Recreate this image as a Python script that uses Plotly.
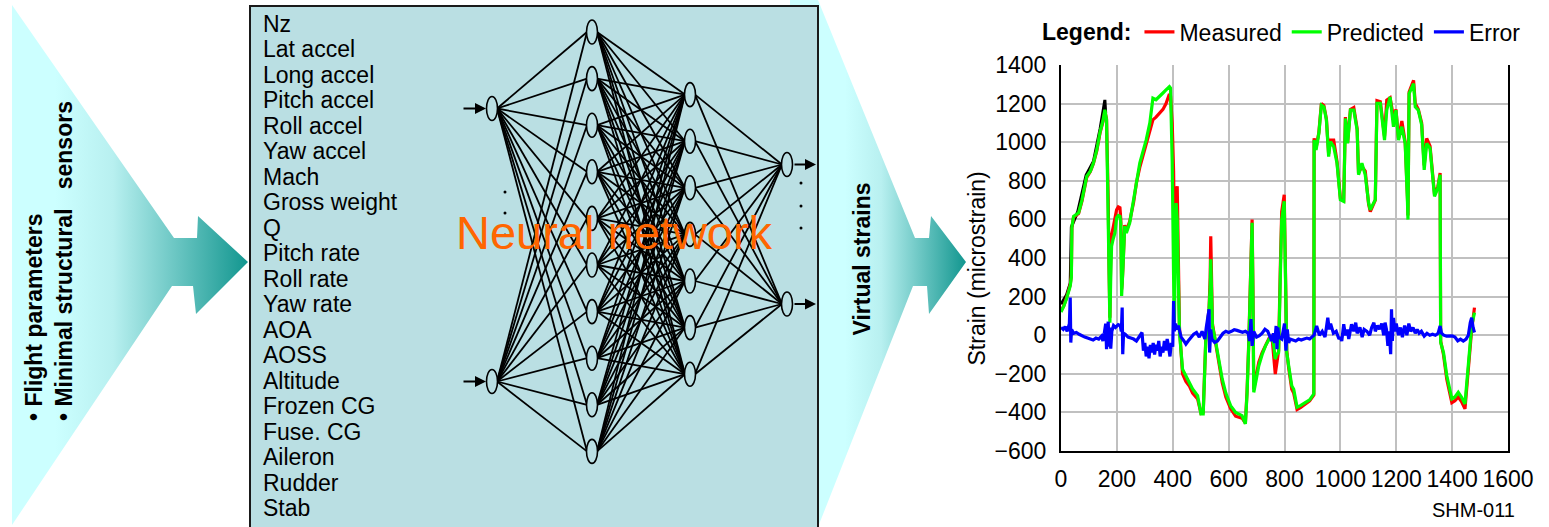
import plotly.graph_objects as go

# ---------------- data ----------------
input_labels = ["Nz", "Lat accel", "Long accel", "Pitch accel", "Roll accel", "Yaw accel",
                "Mach", "Gross weight", "Q", "Pitch rate", "Roll rate", "Yaw rate", "AOA",
                "AOSS", "Altitude", "Frozen CG", "Fuse. CG", "Aileron", "Rudder", "Stab"]

x_mp = [0, 10, 20, 33, 37, 39, 45, 63, 75, 92, 105, 116, 128, 140, 150, 157, 163, 166, 169, 172,
        175, 178, 181, 187, 193, 199, 205, 211, 214, 217, 219, 222, 228, 234, 246, 260, 270, 282,
        295, 305, 318, 329, 340, 353, 365, 376, 388, 392, 398, 403, 406, 409, 412, 416, 420, 424,
        435, 447, 460, 471, 489, 501, 509, 518, 530, 534, 536, 539, 542, 554, 565, 577, 590, 607,
        625, 648, 660, 666, 672, 680, 684, 687, 690, 700, 708, 720, 732, 745, 755, 762, 767, 772,
        779, 785, 790, 799, 802, 808, 815, 826, 833, 845, 857, 875, 890, 905, 906, 913, 923, 932,
        941, 950, 958, 964, 976, 988, 1000, 1012, 1018, 1026, 1036, 1048, 1060, 1065, 1077, 1089,
        1101, 1107, 1125, 1131, 1143, 1158, 1166, 1178, 1190, 1199, 1208, 1220, 1232, 1240, 1242,
        1246, 1262, 1268, 1279, 1291, 1300, 1309, 1321, 1337, 1349, 1357, 1359, 1369, 1381, 1399,
        1410, 1422, 1434, 1446, 1452, 1458, 1470, 1480]

predicted = [120, 150, 190, 255, 300, 560, 616, 634, 700, 823, 850, 892, 960, 1055, 1110, 1168, 1116,
             900, 685, 300, 65, 300, 461, 500, 530, 608, 620, 616, 582, 203, 250, 358, 565, 530, 582,
             700, 800, 892, 960, 1012, 1100, 1228, 1220, 1236, 1255, 1271, 1288, 1280, 900, 300, 65,
             400, 685, 600, 200, 14, -176, -210, -240, -279, -313, -408, -408, -38, 134, 250, 393,
             200, 48, -38, -130, -227, -300, -365, -400, -417, -460, -300, -55, 300, 582, 200, -296,
             -220, -158, -100, -55, -20, -3, -60, -124, -100, -90, 300, 599, 694, 400, -90, -160,
             -262, -280, -373, -365, -347, -335, -304, 1011, 960, 1046, 1192, 1183, 1115, 925, 1003,
             977, 891, 702, 693, 1123, 994, 1166, 1166, 1063, 831, 891, 831, 685, 650, 702, 1201,
             1201, 1011, 1166, 1235, 1080, 1166, 1011, 1080, 994, 700, 599, 1252, 1304, 1183, 1166,
             1089, 857, 994, 968, 719, 762, 831, -38, -89, -210, -330, -320, -296, -322, -356, -250,
             -124, 48, 117]

measured = [125, 152, 195, 262, 310, 555, 612, 630, 695, 818, 848, 890, 955, 1050, 1105, 1160, 1120,
            950, 700, 350, 90, 400, 520, 560, 600, 650, 665, 660, 600, 238, 270, 360, 570, 540, 590,
            690, 790, 870, 940, 990, 1060, 1116, 1130, 1150, 1170, 1200, 1250, 1240, 1100, 850, 500,
            550, 740, 771, 350, 40, -200, -240, -265, -300, -330, -405, -400, -30, 140, 300, 513,
            300, 60, -45, -145, -245, -320, -380, -420, -430, -455, -290, -40, 320, 599, 250, -280,
            -200, -140, -90, -50, -15, -5, -100, -201, -150, -80, 350, 640, 728, 450, -80, -170,
            -280, -300, -385, -375, -355, -340, -310, 1020, 970, 1050, 1200, 1190, 1120, 940, 1011,
            1011, 900, 710, 700, 1130, 1000, 1170, 1180, 1070, 840, 874, 850, 680, 640, 700, 1215,
            1210, 1030, 1218, 1230, 1130, 1170, 1020, 1110, 1000, 720, 620, 1260, 1320, 1200, 1170,
            1100, 880, 1020, 980, 730, 770, 840, -30, -100, -230, -350, -340, -320, -345, -382, -280,
            -150, 30, 143]

# early part of the measured record drawn in black
x_early = [0, 20, 33, 37, 60, 90, 116, 140, 157, 160]
early = [160, 210, 270, 560, 640, 830, 900, 1070, 1219, 1150]

x_err = [0, 8, 15, 22, 30, 33, 35, 38, 45, 55, 65, 75, 85, 95, 105, 115, 125, 135, 145, 150, 155,
         160, 163, 166, 169, 172, 175, 178, 182, 188, 195, 205, 212, 216, 219, 221, 224, 230, 240,
         250, 260, 270, 280, 290, 295, 300, 305, 310, 315, 320, 325, 330, 335, 340, 345, 350, 355,
         360, 365, 370, 375, 380, 385, 390, 395, 400, 403, 406, 410, 415, 420, 425, 430, 440, 447,
         455, 465, 475, 485, 495, 505, 515, 520, 530, 532, 536, 540, 550, 560, 570, 580, 590, 600,
         610, 620, 630, 640, 650, 660, 670, 675, 680, 684, 690, 700, 710, 720, 730, 740, 750, 755,
         760, 765, 770, 773, 776, 780, 790, 800, 805, 810, 815, 820, 830, 840, 850, 860, 870, 880,
         890, 900, 906, 915, 925, 935, 945, 950, 955, 960, 965, 975, 985, 995, 1000, 1005, 1012,
         1018, 1025, 1030, 1040, 1048, 1055, 1060, 1070, 1078, 1085, 1095, 1105, 1112, 1120, 1125,
         1133, 1140, 1148, 1155, 1160, 1165, 1170, 1175, 1180, 1183, 1186, 1190, 1195, 1200, 1208,
         1215, 1222, 1230, 1238, 1245, 1252, 1260, 1268, 1275, 1282, 1290, 1300, 1310, 1320, 1330,
         1340, 1350, 1357, 1362, 1370, 1380, 1390, 1400, 1410, 1420, 1430, 1440, 1450, 1458, 1465,
         1470, 1475, 1480]

error = [40, 30, 45, 20, 60, 195, -38, 30, 10, 14, 5, -5, -10, -15, -20, -25, -15, -20, -5, -30, 10,
         60, -72, 30, 70, -60, 40, -70, 20, 50, 40, 55, 50, 20, 143, -98, 10, 5, -10, -15, -20, -30,
         -10, 14, -80, -40, -110, -60, -120, -50, -90, -40, -100, -50, -80, -30, -110, -60, -90, -30,
         -80, -20, -60, -110, -40, -60, 177, 20, 60, 30, 50, 10, -10, -30, -46, -30, -10, 5, 14, -10,
         20, -20, 40, 134, -90, 30, -20, -38, -30, -10, 10, 20, 14, 20, 28, 25, 20, 15, 20, 10, -30,
         83, -55, 20, -10, -3, 10, 31, 20, -20, -30, 10, -40, 48, -72, 40, -10, -20, 60, -80, 30,
         -40, -20, -25, -30, -20, -25, -20, -15, -20, -10, 0, 48, 0, 20, -10, 40, 91, 30, 60, 10, 20,
         -20, -10, -30, 57, 0, 30, -20, 57, 20, 65, 10, 40, -10, 30, 20, 0, 40, 65, 20, 50, 31, 60,
         0, 65, 30, -55, 20, -98, 134, -30, 90, 20, 60, 0, 40, -10, 50, 0, 60, 20, 40, 10, 30, 10,
         20, -5, 10, 0, 5, 0, 10, 48, 10, 0, -5, -5, -3, -10, -29, -20, -30, -20, 0, 65, 91, 40, 14]

x_ticks = [0, 200, 400, 600, 800, 1000, 1200, 1400, 1600]
y_ticks = [-600, -400, -200, 0, 200, 400, 600, 800, 1000, 1200, 1400]

# network layout (nodes per layer)
layer_x = [492, 592, 690, 787]
layer_y = [
    [108.5, 381.5],
    [32 + 46.6 * k for k in range(10)],
    [94.6 + 46.6 * k for k in range(7)],
    [164.5, 304.0],
]

W, H = 1549, 527
FONT = "Liberation Sans, Arial, sans-serif"
BOX = "#BADFE3"

fig = go.Figure()

# ---------- chart traces ----------
fig.add_trace(go.Scatter(x=x_early, y=early, mode="lines", line=dict(color="black", width=3),
                         showlegend=False, hoverinfo="skip", xaxis="x", yaxis="y"))
fig.add_trace(go.Scatter(x=x_mp, y=measured, mode="lines", name="Measured",
                         line=dict(color="#FF0000", width=3.2), xaxis="x", yaxis="y"))
fig.add_trace(go.Scatter(x=x_mp, y=predicted, mode="lines", name="Predicted",
                         line=dict(color="#00FF00", width=3.2), xaxis="x", yaxis="y"))
fig.add_trace(go.Scatter(x=x_err, y=error, mode="lines", name="Error",
                         line=dict(color="#0000FF", width=3.2), xaxis="x", yaxis="y"))

# ---------- diagram (pixel axes x2/y2) ----------
a1x = [12, 174, 197, 198, 248, 196, 193, 172, 12, 12]
a1y = [5, 238, 238, 216, 262, 314, 286, 286, 525, 5]
fig.add_trace(go.Scatter(x=a1x, y=a1y, mode="lines", fill="toself", line=dict(width=0),
                         fillgradient=dict(type="horizontal", start=55, stop=248,
                                           colorscale=[[0, "#CCFFFF"], [0.3, "#B8F0F0"], [1, "#12968F"]]),
                         showlegend=False, hoverinfo="skip", xaxis="x2", yaxis="y2"))
a2x = [790, 818, 915, 929, 931, 966, 929, 927, 913, 818, 790, 790]
a2y = [0, 0, 238, 238, 216, 262, 314, 286, 286, 527, 527, 0]
fig.add_trace(go.Scatter(x=a2x, y=a2y, mode="lines", fill="toself", line=dict(width=0),
                         fillgradient=dict(type="horizontal", start=845, stop=966,
                                           colorscale=[[0, "#CCFFFF"], [0.3, "#B8F0F0"], [1, "#12968F"]]),
                         showlegend=False, hoverinfo="skip", xaxis="x2", yaxis="y2"))
fig.add_trace(go.Scatter(x=[250, 818, 818, 250, 250], y=[540, 540, 6, 6, 540], mode="lines",
                         fill="toself", fillcolor=BOX, line=dict(color="#1a1a1a", width=2),
                         showlegend=False, hoverinfo="skip", xaxis="x2", yaxis="y2"))

lx, ly = [], []
half_w = 5
for li in range(3):
    for ys in layer_y[li]:
        for yt in layer_y[li + 1]:
            lx += [layer_x[li] + half_w, layer_x[li + 1] - half_w, None]
            ly += [ys, yt, None]
fig.add_trace(go.Scatter(x=lx, y=ly, mode="lines", line=dict(color="black", width=1.8),
                         showlegend=False, hoverinfo="skip", xaxis="x2", yaxis="y2"))
fig.add_trace(go.Scatter(x=[505, 505, 505, 801, 801, 801], y=[192, 213, 235, 183, 206, 228],
                         mode="markers", marker=dict(color="black", size=3),
                         showlegend=False, hoverinfo="skip", xaxis="x2", yaxis="y2"))

shapes = []
for li in range(4):
    for yy in layer_y[li]:
        shapes.append(dict(type="circle", xref="x2", yref="y2", layer="above",
                           x0=layer_x[li] - 5.5, x1=layer_x[li] + 5.5, y0=yy - 12, y1=yy + 12,
                           fillcolor=BOX, line=dict(color="black", width=1.6)))

annotations = []
for i, lab in enumerate(input_labels):
    annotations.append(dict(x=261, y=23.5 + 25.5 * i, xref="x2", yref="y2", text=lab,
                            showarrow=False, xanchor="left", yanchor="middle",
                            font=dict(family=FONT, size=23, color="black")))
for yy in layer_y[0]:
    annotations.append(dict(x=486, y=yy, ax=462, ay=yy, xref="x2", yref="y2", axref="x2", ayref="y2",
                            text="", showarrow=True, arrowhead=2, arrowsize=1.1, arrowwidth=2,
                            arrowcolor="black"))
for yy in layer_y[3]:
    annotations.append(dict(x=816, y=yy, ax=793, ay=yy, xref="x2", yref="y2", axref="x2", ayref="y2",
                            text="", showarrow=True, arrowhead=2, arrowsize=1.1, arrowwidth=2,
                            arrowcolor="black"))
annotations.append(dict(x=614, y=232, xref="x2", yref="y2", text="Neural network", showarrow=False,
                        xanchor="center", yanchor="middle",
                        font=dict(family=FONT, size=47, color="#FF6600")))
nb = "\u00a0"
annotations.append(dict(x=49, y=261, xref="x2", yref="y2", textangle=-90, align="left",
                        text="<b>• Flight parameters<br>• Minimal structural" + nb * 3 + "sensors</b>",
                        showarrow=False, xanchor="center", yanchor="middle",
                        font=dict(family=FONT, size=23, color="black")))
annotations.append(dict(x=861.5, y=259, xref="x2", yref="y2", textangle=-90,
                        text="<b>Virtual strains</b>", showarrow=False,
                        xanchor="center", yanchor="middle",
                        font=dict(family=FONT, size=23, color="black")))
annotations.append(dict(x=976.5, y=269, xref="x2", yref="y2", textangle=-90,
                        text="Strain (microstrain)", showarrow=False,
                        xanchor="center", yanchor="middle",
                        font=dict(family=FONT, size=23, color="black")))
annotations.append(dict(x=1473, y=510, xref="x2", yref="y2", text="SHM-011", showarrow=False,
                        xanchor="center", yanchor="middle",
                        font=dict(family=FONT, size=20, color="black")))

x0p, x1p = 1061, 1508
y0p, y1p = 65, 451

fig.update_layout(
    width=W, height=H, autosize=False,
    margin=dict(l=0, r=0, t=0, b=0, pad=0, autoexpand=False),
    paper_bgcolor="white", plot_bgcolor="rgba(0,0,0,0)",
    font=dict(family=FONT, size=23, color="black"),
    xaxis=dict(domain=[x0p / W, x1p / W], range=[0, 1600], tickvals=x_ticks, tickangle=0,
               showgrid=True, gridcolor="#C0C0C0", gridwidth=1.5, zeroline=False, automargin=False,
               showline=True, linecolor="black", linewidth=2, mirror=False, ticks="",
               ticklabelstandoff=6, tickfont=dict(size=23), anchor="y", fixedrange=True),
    yaxis=dict(domain=[(H - y1p) / H, (H - y0p) / H], range=[-600, 1400], tickvals=y_ticks,
               showgrid=True, gridcolor="#C0C0C0", gridwidth=1.5, zeroline=False, automargin=False,
               showline=True, linecolor="black", linewidth=2, mirror=True, ticks="",
               ticklabelstandoff=8, tickfont=dict(size=23), anchor="x", fixedrange=True),
    xaxis2=dict(domain=[0, 1], range=[0, W], visible=False, anchor="y2", fixedrange=True,
                automargin=False),
    yaxis2=dict(domain=[0, 1], range=[H, 0], visible=False, anchor="x2", fixedrange=True,
                automargin=False),
    shapes=shapes,
    annotations=annotations,
    legend=dict(orientation="h", x=1040 / W, xanchor="left", y=(H - 32) / H, yanchor="middle",
                title=dict(text="<b>Legend:</b>", side="left", font=dict(size=23)),
                font=dict(size=23), itemwidth=30, bgcolor="rgba(0,0,0,0)", tracegroupgap=0),
    showlegend=True,
)

fig.write_html(
    "out.html",
    config={"displayModeBar": False},
    post_script="document.body.style.margin='0';document.body.style.overflow='hidden';",
)
